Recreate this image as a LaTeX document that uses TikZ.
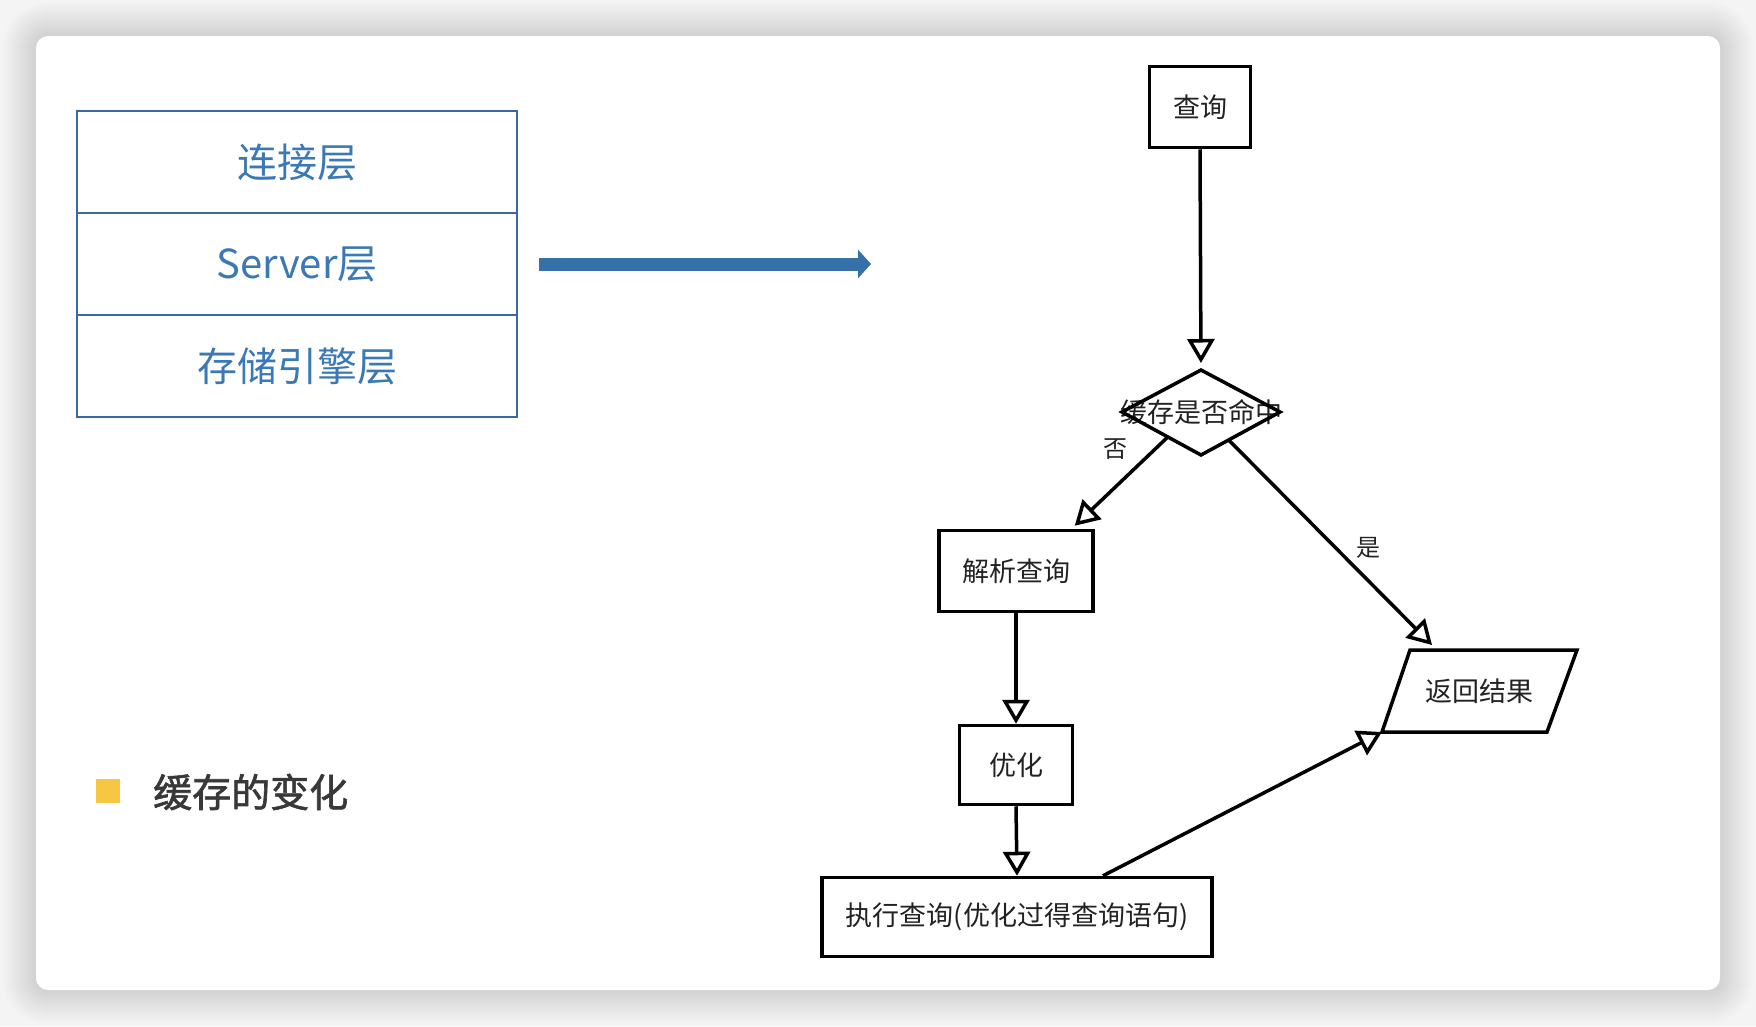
\documentclass[tikz,border=0pt]{standalone}
\usepackage{fontspec}
\newfontfamily\cjk{Noto Sans CJK SC}
\newfontfamily\cjkmed[FakeBold=1.6]{Noto Sans CJK SC}
\usetikzlibrary{arrows.meta,calc}
\definecolor{layerblue}{HTML}{3A68A2}
\definecolor{layertext}{HTML}{3B78B6}
\definecolor{arrowblue}{HTML}{3670A8}
\definecolor{inkgray}{HTML}{222222}
\definecolor{bulletyellow}{HTML}{F7C642}
\definecolor{pagebg}{HTML}{F4F4F4}
\begin{document}
\begin{tikzpicture}[x=1pt, y=-1pt,
  layer/.style={draw=layerblue, line width=2pt, minimum width=440pt,
    minimum height=102pt, text=layertext, inner sep=0pt,
    font=\cjk\fontsize{40}{44}\selectfont},
  flowbox/.style={draw=black, line width=3.5pt, fill=white, text=inkgray,
    inner sep=0pt, font=\cjk\fontsize{27}{30}\selectfont},
  flowline/.style={draw=black, line width=3.5pt, line join=miter},
  flowarrow/.style={flowline, -{Triangle[open, length=24pt, width=27pt, fill=white]}},
  flowlabel/.style={text=inkgray, inner sep=0pt, font=\cjk\fontsize{24}{26}\selectfont}]
  \useasboundingbox (0,0) rectangle (1756,1026);
  % Page and card with soft shadow
  \fill[pagebg] (0,0) rectangle (1756,1026);
  \foreach \s [evaluate=\s as \r using 12+\s] in {1,...,34}
    \fill[black, opacity=0.0055, rounded corners=\r pt]
      (36-\s,36-\s) rectangle (1720+\s,990+\s);
  \fill[white, rounded corners=12pt] (36,36) rectangle (1720,990);
  % Layers of the server
  \node[layer] (conn) at (297,162) {连接层};
  \node[layer] (srv) at (297,264) {Server层};
  \node[layer] (engine) at (297,366) {存储引擎层};
  % Big arrow
  \coordinate (arrowend) at (871,264);
  \draw[arrowblue, line width=13pt, -{Triangle[length=13pt, width=28pt]}]
    ([xshift=21pt]srv.east) -- (arrowend);
  % Bullet and title
  \node[fill=bulletyellow, minimum size=24pt, inner sep=0pt] (bullet) at (108,791) {};
  \node[anchor=west, inner sep=0pt, text=inkgray!90!white,
    font=\cjkmed\fontsize{39}{42}\selectfont] (title) at (153,792) {缓存的变化};
  % Flowchart
  \node[flowbox, minimum width=101pt, minimum height=81pt] (ask) at (1200,107) {查询};
  \node[flowbox, minimum width=154pt, minimum height=81pt] (parse) at (1016,571) {解析查询};
  \node[flowbox, minimum width=113pt, minimum height=79pt] (opt) at (1016,765) {优化};
  \node[flowbox, minimum width=390pt, minimum height=79pt] (exec) at (1017,917)
    {执行查询(优化过得查询语句)};
  % Output (parallelogram)
  \coordinate (resTL) at (1410,650);
  \coordinate (resTR) at (1577,650);
  \coordinate (resBR) at (1547,732);
  \coordinate (resBL) at (1382,732);
  \draw[flowline] (resTL) -- (resTR) -- (resBR) -- (resBL) -- cycle;
  \node[flowlabel, font=\cjk\fontsize{27}{30}\selectfont] (result) at (1479,691) {返回结果};
  % Decision
  \coordinate (hitN) at (1201,370);
  \coordinate (hitE) at (1280,412);
  \coordinate (hitS) at (1201,455);
  \coordinate (hitW) at (1122,412);
  \node[flowlabel, font=\cjk\fontsize{27}{30}\selectfont] (hit) at (1201,412) {缓存是否命中};
  \draw[flowline] (hitN) -- (hitE) -- (hitS) -- (hitW) -- cycle;
  % Connectors
  \draw[flowarrow, shorten >=7pt] (ask.south) -- (hitN);
  \draw[flowarrow] ($(hitW)!0.58!(hitS)$) -- ([xshift=-20pt, yshift=3pt]parse.north east);
  \draw[flowarrow] ($(hitS)!0.35!(hitE)$) -- ([xshift=22pt, yshift=5pt]resTL);
  \draw[flowarrow] (parse.south) -- (opt.north);
  \draw[flowarrow] (opt.south) -- (exec.north);
  \draw[flowarrow] ([xshift=86pt]exec.north) -- (resBL);
  % Branch labels
  \node[flowlabel] (no) at (1115,449) {否};
  \node[flowlabel] (yes) at (1368,548) {是};
\end{tikzpicture}
\end{document}
